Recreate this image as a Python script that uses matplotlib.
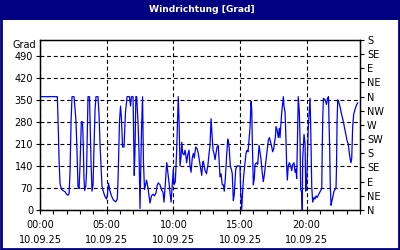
import matplotlib
matplotlib.use('Agg')
import matplotlib.pyplot as plt
from matplotlib.patches import Rectangle

# hours since 00:00 (10.09.25) and wind direction in degrees
hours = [0.00, 1.30, 1.35, 1.43, 1.50, 1.61, 1.73, 1.88, 1.99, 2.10, 2.18, 2.25, 2.33, 2.40, 2.55,
         2.63, 2.70, 2.78, 2.85, 2.93, 3.00, 3.10, 3.19, 3.25, 3.30, 3.35, 3.43, 3.49, 3.60, 3.71,
         3.77, 3.83, 3.90, 3.98, 4.05, 4.13, 4.20, 4.35, 4.43, 4.50, 4.58, 4.65, 4.76, 4.88, 4.99,
         5.06, 5.14, 5.25, 5.36, 5.50, 5.68, 5.80, 5.87, 5.96, 6.04, 6.11, 6.19, 6.30, 6.41, 6.53,
         6.71, 6.79, 6.86, 6.98, 7.04, 7.07, 7.13, 7.19, 7.25, 7.35, 7.43, 7.50, 7.61, 7.69, 7.76,
         7.84, 7.99, 8.10, 8.25, 8.36, 8.48, 8.59, 8.70, 8.80, 8.87, 9.00, 9.11, 9.23, 9.30, 9.38,
         9.45, 9.50, 9.56, 9.68, 9.75, 9.83, 9.90, 10.00, 10.05, 10.15, 10.25, 10.31, 10.37, 10.43,
         10.50, 10.58, 10.63, 10.70, 10.80, 10.88, 10.95, 11.00, 11.08, 11.18, 11.25, 11.33, 11.42,
         11.50, 11.57, 11.68, 11.78, 11.87, 12.00, 12.13, 12.20, 12.25, 12.38, 12.49, 12.60, 12.68,
         12.75, 12.83, 12.90, 12.98, 13.05, 13.13, 13.20, 13.28, 13.37, 13.43, 13.50, 13.58, 13.67,
         13.75, 13.82, 13.90, 14.00, 14.08, 14.14, 14.20, 14.27, 14.35, 14.42, 14.50, 14.57, 14.68,
         14.78, 15.00, 15.05, 15.13, 15.20, 15.28, 15.38, 15.45, 15.53, 15.60, 15.68, 15.75, 15.83,
         15.88, 15.92, 16.00, 16.07, 16.13, 16.24, 16.33, 16.43, 16.50, 16.58, 16.65, 16.75, 16.82,
         16.90, 17.00, 17.12, 17.20, 17.30, 17.38, 17.45, 17.53, 17.59, 17.65, 17.70, 17.78, 17.87,
         17.95, 18.00, 18.13, 18.25, 18.30, 18.38, 18.45, 18.50, 18.55, 18.62, 18.70, 18.80, 18.88,
         18.95, 19.05, 19.13, 19.20, 19.25, 19.30, 19.37, 19.45, 19.50, 19.55, 19.63, 19.67, 19.70,
         19.80, 19.88, 19.93, 20.00, 20.12, 20.20, 20.25, 20.30, 20.38, 20.45, 20.55, 20.63, 20.70,
         20.80, 20.90, 21.00, 21.13, 21.17, 21.21, 21.26, 21.38, 21.49, 21.56, 21.64, 21.68, 21.73,
         21.77, 21.83, 21.90, 21.98, 22.05, 22.13, 22.20, 22.24, 22.28, 22.33, 22.39, 22.52, 22.61,
         22.73, 22.82, 22.93, 23.03, 23.12, 23.20, 23.27, 23.33, 23.38, 23.45, 23.53, 23.63, 23.75,
         23.83]
grad = [360, 360, 290, 160, 85, 65, 62, 58, 50, 47, 52, 120, 280, 360, 360,
        320, 280, 180, 75, 68, 140, 280, 280, 200, 100, 62, 75, 120, 360, 360,
        250, 150, 60, 80, 200, 320, 360, 360, 300, 210, 140, 75, 57, 42, 35,
        50, 85, 60, 45, 32, 26, 35, 120, 280, 330, 290, 200, 200, 310, 360,
        360, 330, 360, 360, 200, 110, 200, 360, 360, 280, 180, 5, 250, 360, 150,
        65, 95, 70, 22, 45, 50, 45, 55, 80, 86, 80, 65, 55, 25, 70,
        115, 150, 130, 85, 55, 25, 70, 130, 80, 90, 190, 280, 360, 280,
        140, 170, 215, 180, 175, 190, 170, 150, 175, 190, 140, 120, 165,
        180, 165, 200, 195, 180, 145, 110, 150, 155, 125, 115, 145, 180,
        205, 290, 240, 190, 180, 160, 180, 200, 205, 160, 105, 115, 80,
        80, 60, 100, 175, 225, 215, 190, 140, 130, 115, 30, 50, 130,
        140, 140, 60, 3, 60, 110, 150, 180, 190, 185, 225, 260, 345,
        320, 225, 80, 100, 145, 150, 145, 205, 185, 160, 125, 90, 110,
        140, 175, 220, 230, 215, 200, 185, 195, 215, 230, 265, 255, 230,
        260, 230, 310, 360, 330, 310, 220, 140, 95, 140, 150, 140, 125,
        145, 150, 120, 130, 100, 200, 360, 310, 230, 65, 55, 0, 160,
        240, 210, 60, 80, 260, 320, 355, 270, 75, 25, 40, 35, 45,
        40, 50, 58, 68, 200, 300, 355, 350, 335, 355, 360, 270, 190,
        80, 15, 30, 45, 60, 65, 70, 140, 280, 350, 345, 325, 305,
        285, 265, 240, 220, 210, 180, 160, 150, 165, 265, 305, 320, 335,
        340]

x_ticks = [0, 5, 10, 15, 20]
x_labels = ['00:00\n10.09.25', '05:00\n10.09.25', '10:00\n10.09.25',
            '15:00\n10.09.25', '20:00\n10.09.25']
y_ticks = [0, 70, 140, 210, 280, 350, 420, 490]
dir_ticks = [0, 45, 90, 135, 180, 225, 270, 315, 360, 405, 450, 495, 540]
dir_labels = ['N', 'NE', 'E', 'SE', 'S', 'SW', 'W', 'NW', 'N', 'NE', 'E', 'SE', 'S']

navy = '#000080'
fs = 7

fig = plt.figure(figsize=(4, 2.5), dpi=100)
# panel border + title bar
fig.patches.append(Rectangle((0.002, 0.004), 0.996, 0.99, transform=fig.transFigure,
                             fill=False, edgecolor=navy, linewidth=2))
fig.patches.append(Rectangle((0, 0.92), 1, 0.08, transform=fig.transFigure,
                             facecolor=navy, edgecolor='none'))
fig.text(0.505, 0.962, 'Windrichtung [Grad]', color='white', fontsize=6.6,
         fontweight='bold', ha='center', va='center')

ax = fig.add_axes([0.1, 0.16, 0.8, 0.68])
ax.plot(hours, grad, color='#0000ff', linewidth=0.9)
ax.set_xlim(0, 24)
ax.set_ylim(0, 540)

ax.set_xticks(x_ticks)
ax.set_xticklabels(x_labels, fontsize=fs, linespacing=1.6)
ax.set_xticks(range(0, 25), minor=True)
ax.set_yticks(y_ticks)
ax.set_yticklabels([str(v) for v in y_ticks], fontsize=fs)
ax.tick_params(axis='x', which='both', length=3, width=0.8, pad=4, direction='out')
ax.tick_params(axis='y', length=3, width=0.8, pad=2, direction='out')
ax.grid(True, color='black', linestyle=(0, (3.5, 2.5)), linewidth=0.8)
for s in ax.spines.values():
    s.set_linewidth(1.0)

ax2 = ax.twinx()
ax2.set_ylim(0, 540)
ax2.set_yticks(dir_ticks)
ax2.set_yticklabels(dir_labels, fontsize=fs)
ax2.tick_params(axis='y', length=3, width=0.8, pad=2, direction='out')

fig.text(0.09, 0.82, 'Grad', fontsize=fs, ha='right', va='center')

fig.savefig('out.png', dpi=100)
